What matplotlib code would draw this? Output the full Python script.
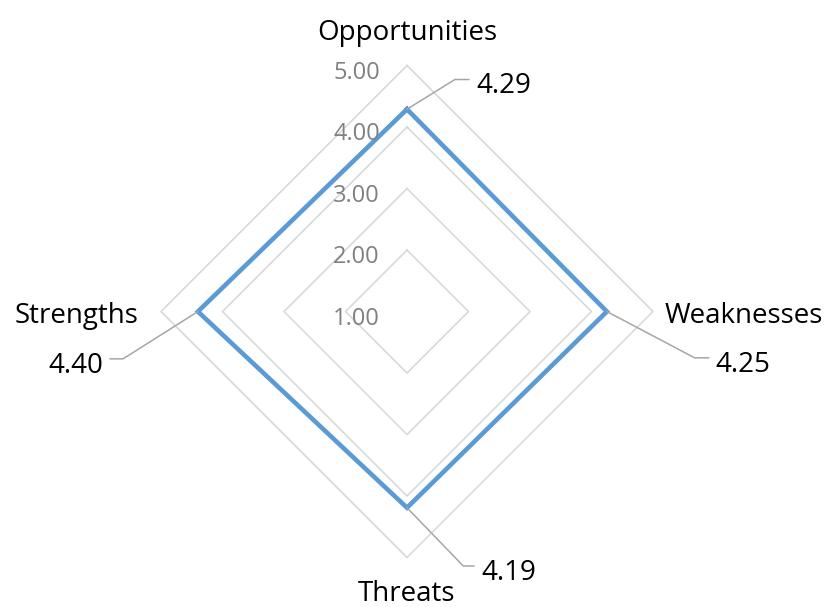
import numpy as np
import matplotlib.pyplot as plt

# chart data
categories = ['Opportunities', 'Weaknesses', 'Threats', 'Strengths']
values = [4.29, 4.25, 4.19, 4.40]
ring_levels = [1, 2, 3, 4, 5]
tick_labels = ['1.00', '2.00', '3.00', '4.00', '5.00']

plt.rcParams['font.family'] = ['Open Sans', 'DejaVu Sans']

fig = plt.figure(figsize=(8.29, 6.07), dpi=100)
ax = fig.add_axes([0.1942, 0.0815, 0.5935, 0.8105], projection='polar')
ax.set_theta_zero_location('N')
ax.set_theta_direction(-1)
ax.set_ylim(1, 5)
ax.set_xticks([])
ax.set_yticks([])
ax.grid(False)
ax.spines['polar'].set_visible(False)
ax.patch.set_visible(False)

theta = np.linspace(0, 2 * np.pi, len(categories), endpoint=False)
theta_closed = np.append(theta, theta[0])

# diamond shaped grid rings
for lvl in ring_levels[1:]:
    ax.plot(theta_closed, [lvl] * len(theta_closed), color='#d9d9d9', lw=1.2,
            clip_on=False, zorder=1)

# the series
vals_closed = values + values[:1]
ax.plot(theta_closed, vals_closed, color='#5b9bd5', lw=3.3,
        solid_joinstyle='miter', clip_on=False, zorder=3)

# radial tick labels
for lvl, lab in zip(ring_levels, tick_labels):
    ax.annotate(lab, xy=(0, lvl), xytext=(-27, -4), textcoords='offset pixels',
                ha='right', va='center_baseline', color='#808080', fontsize=17,
                annotation_clip=False, zorder=4)

# category labels
cat_pos = [((0, 26), 'center'), ((12, -11), 'left'),
           ((0, -43), 'center'), ((-23, -11), 'right')]
for th, name, (off, ha) in zip(theta, categories, cat_pos):
    ax.annotate(name, xy=(th, 5), xytext=off, textcoords='offset pixels',
                ha=ha, va='baseline', fontsize=20, color='#000000',
                annotation_clip=False)

# data labels with leader lines
lab_pos = [((69, 23), 'left', 31.8), ((109, -53), 'left', -27.8),
           ((74, -65), 'left', -46.0), ((-95, -54), 'right', 32.3)]
for th, v, (off, ha, ang) in zip(theta, values, lab_pos):
    rel = (0, 0.74) if ha == 'left' else (1, 0.74)
    ax.annotate(f'{v:.2f}', xy=(th, v), xytext=off, textcoords='offset pixels',
                ha=ha, va='center', fontsize=20, color='#000000',
                annotation_clip=False,
                arrowprops=dict(arrowstyle='-', color='#a6a6a6', lw=1.1,
                                connectionstyle=f'angle,angleA=0,angleB={ang},rad=0',
                                relpos=rel, shrinkA=3, shrinkB=0))

fig.savefig('out.png', dpi=100)
